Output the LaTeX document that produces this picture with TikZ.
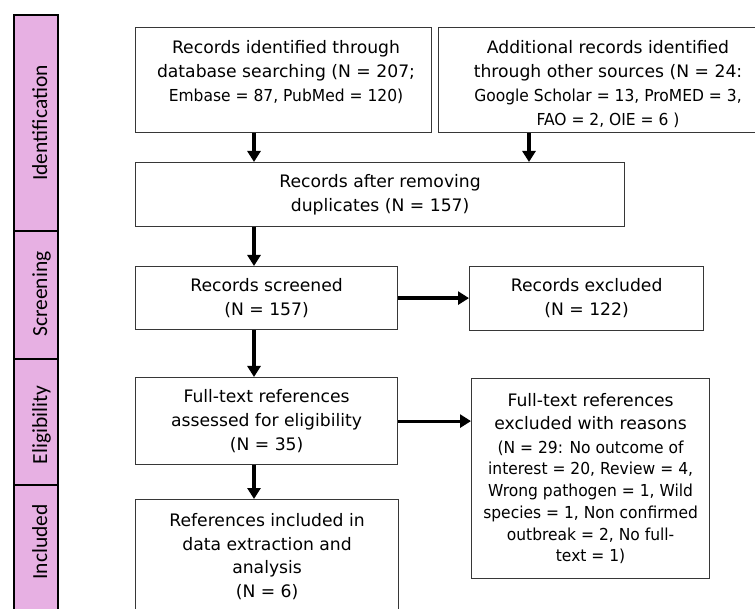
\documentclass[tikz,border=0pt]{standalone}
\usepackage{fontspec}
\setmainfont{DejaVu Sans}
\newfontfamily\sidefont{Carlito}
\newfontfamily\narrowfont{DejaVu Sans}[FakeStretch=0.94]
\newcommand{\smallline}{\narrowfont\fontsize{16.5}{21.7}\selectfont}
\usetikzlibrary{arrows.meta}
\definecolor{sidepink}{RGB}{231,176,227}
\definecolor{boxline}{RGB}{55,55,55}
\begin{document}
\begin{tikzpicture}[x=1pt,y=-1pt,
  box/.style={draw=boxline, line width=1.2pt, fill=white, inner sep=0pt, align=center,
    font=\fontsize{17.2}{24}\selectfont, anchor=north west},
  txt/.style={inner sep=0pt, align=center, font=\fontsize{17.2}{24}\selectfont},
  arr/.style={line width=3.2pt, -{Triangle[length=11pt,width=13pt]}},
  sec/.style={draw=black, line width=2.4pt, fill=sidepink, inner sep=0pt, anchor=north west, minimum width=44pt},
  side/.style={rotate=90, anchor=base, inner sep=0pt, font=\sidefont\fontsize{21.5}{24}\selectfont}]
\useasboundingbox (0,0) rectangle (755,609);
\clip (0,0) rectangle (755,609);
\fill[white] (0,0) rectangle (755,609);

% side bar
\node[sec, minimum height=216pt] (s1) at (13,14) {};
\node[sec, minimum height=128pt] (s2) at (13,230) {};
\node[sec, minimum height=126pt] (s3) at (13,358) {};
\node[sec, minimum height=136pt] (s4) at (13,484) {};
\node[side] (l1) at (47,123) {Identification};
\node[side] (l2) at (47,294) {Screening};
\node[side] (l3) at (47,425) {Eligibility};
\node[side] (l4) at (47,542) {Included};

% boxes
\node[box, minimum width=296pt, minimum height=105pt] (b1) at (135,27) {};
\node[txt] (t1) at (286,72.5) {Records identified through\\database searching (N = 207;\\{\smallline Embase = 87, PubMed = 120)}};
\node[box, minimum width=334pt, minimum height=105pt] (b2) at (438,27) {};
\node[txt] (t2) at (608,84) {Additional records identified\\through other sources (N = 24:\\{\smallline Google Scholar = 13, ProMED = 3,}\\{\smallline FAO = 2, OIE = 6 )}};
\node[box, minimum width=489pt, minimum height=64pt] (b3) at (135,162) {Records after removing\\duplicates (N = 157)};
\node[box, minimum width=262pt, minimum height=63pt] (b4) at (135,266) {Records screened\\(N = 157)};
\node[box, minimum width=234pt, minimum height=64pt] (b5) at (469,266) {Records excluded\\(N = 122)};
\node[box, minimum width=262pt, minimum height=87pt] (b6) at (135,377) {Full-text references\\assessed for eligibility\\(N = 35)};
\node[box, minimum width=263pt, minimum height=114pt, font=\fontsize{17.2}{23.4}\selectfont] (b7) at (135,499) {References included in\\data extraction and\\analysis\\(N = 6)};
\node[box, minimum width=238pt, minimum height=200pt, font=\fontsize{17.2}{21.7}\selectfont] (b8) at (471,378) {Full-text references\\[1.3pt]excluded with reasons\\[2.3pt]%
{\smallline (N = 29: No outcome of}\\
{\smallline interest = 20, Review = 4,}\\
{\smallline Wrong pathogen = 1, Wild}\\
{\smallline species = 1, Non confirmed}\\
{\smallline outbreak = 2, No full-}\\
{\smallline text = 1)}};

% arrows
\coordinate (ax) at (254,0);
\coordinate (bx) at (529,0);
\draw[arr] (b1.south -| ax) -- (b3.north -| ax);
\draw[arr] (b2.south -| bx) -- (b3.north -| bx);
\draw[arr] (b3.south -| ax) -- (b4.north -| ax);
\draw[arr] (b4.east) -- (b5.west |- b4.east);
\draw[arr] (b4.south -| ax) -- (b6.north -| ax);
\draw[arr] (b6.east) -- (b8.west |- b6.east);
\draw[arr] (b6.south -| ax) -- (b7.north -| ax);
\end{tikzpicture}
\end{document}
